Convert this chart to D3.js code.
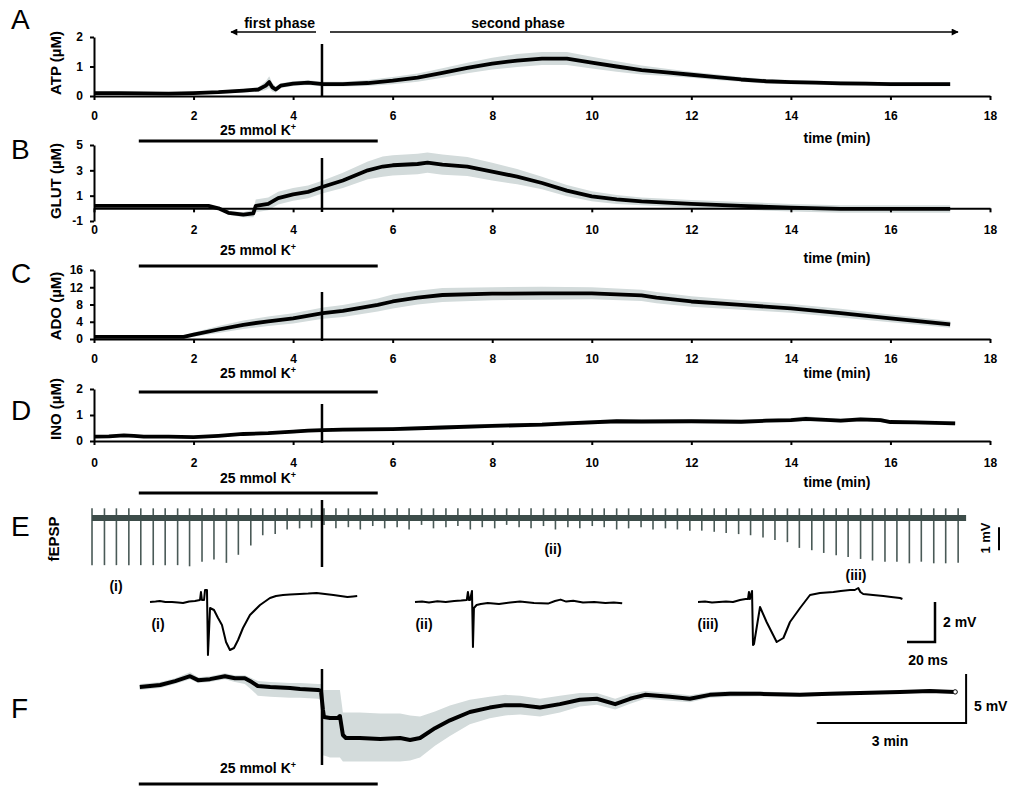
<!DOCTYPE html>
<html>
<head>
<meta charset="utf-8">
<script src="https://cdn.jsdelivr.net/npm/d3@7"></script>
<style>
  body { margin: 0; background: #fff; }
  svg { display: block; font-family: "Liberation Sans", Arial, sans-serif; }
  .axis path, .axis line { stroke: #000; stroke-width: 2; }
  .axis text { font-size: 12px; font-weight: bold; fill: #000; font-family: "Liberation Sans", Arial, sans-serif; }
</style>
</head>
<body>
<script>
// ---- time axis ----
const timeTicks = [0, 2, 4, 6, 8, 10, 12, 14, 16, 18];
const kOnset = 0.9, kOffset = 5.7;   // 25 mmol K+ application (min)
const phaseSplit = 4.58;             // boundary between first and second phase (min)

// ---- A: ATP (µM) ----
const atpT    = [0,0.5,1,1.5,2,2.5,3,3.3,3.45,3.52, 3.58,3.65,3.75,4,4.3,4.6,5,5.5,6,6.5, 7,7.5,8,8.5,9,9.5,10,10.5,11,11.5, 12,12.5,13,13.5,14,14.5,15,15.5,16,16.5, 17.2];
const atpMean = [0.1,0.1,0.09,0.08,0.1,0.13,0.18,0.22,0.35,0.47, 0.3,0.22,0.35,0.42,0.45,0.4,0.4,0.44,0.52,0.62, 0.78,0.95,1.1,1.2,1.27,1.27,1.13,1.0,0.88,0.8, 0.72,0.64,0.56,0.5,0.47,0.45,0.43,0.42,0.4,0.4, 0.4];
const atpSem  = [0.05,0.05,0.05,0.05,0.05,0.05,0.06,0.08,0.15,0.2, 0.15,0.1,0.08,0.08,0.08,0.08,0.08,0.1,0.12,0.14, 0.16,0.18,0.2,0.22,0.22,0.22,0.2,0.18,0.15,0.12, 0.1,0.1,0.08,0.08,0.07,0.07,0.07,0.07,0.07,0.07, 0.07];

// ---- B: GLUT (µM) ----
const glutT    = [0,0.5,1,1.5,2,2.3,2.5,2.7,3.0,3.2, 3.25,3.5,3.7,4,4.3,4.6,5,5.5,5.8,6, 6.5,6.7,7,7.5,8,8.5,9,9.5,10,10.5, 11,12,13,14,15,16,17.2];
const glutMean = [0.2,0.2,0.2,0.2,0.2,0.2,0.0,-0.35,-0.5,-0.4, 0.2,0.35,0.8,1.1,1.3,1.7,2.2,3.0,3.3,3.4, 3.5,3.6,3.45,3.3,2.9,2.5,2.0,1.4,0.95,0.7, 0.55,0.35,0.2,0.05,-0.05,-0.05,-0.05];
const glutSem  = [0.1,0.1,0.1,0.1,0.1,0.1,0.1,0.15,0.2,0.3, 0.5,0.5,0.5,0.5,0.5,0.5,0.6,0.7,0.8,0.8, 0.8,0.8,0.8,0.75,0.7,0.6,0.5,0.45,0.4,0.35, 0.3,0.3,0.3,0.3,0.3,0.3,0.3];

// ---- C: ADO (µM) ----
const adoT    = [0,1,1.8,2,2.5,3,3.5,4,4.6,5, 5.7,6,6.5,7,8,9,10,11,11.3,12, 13,14,15,16,17.2];
const adoMean = [0.5,0.5,0.5,1.0,2.2,3.3,4.1,4.8,6.0,6.5, 7.9,8.7,9.6,10.2,10.5,10.6,10.6,10.1,9.6,8.7, 7.9,7.1,6.0,4.8,3.4];
const adoSem  = [0.2,0.2,0.3,0.5,0.8,1.0,1.1,1.2,1.3,1.4, 1.5,1.6,1.6,1.6,1.5,1.5,1.4,1.3,1.3,1.2, 1.1,1.0,1.0,0.9,0.8];

// ---- D: INO (µM) ----
const inoT    = [0,0.3,0.6,0.8,1,1.5,2,2.5,3,3.5, 4,4.3,4.6,5,6,7,8,9,9.5,10.5, 11,12,13,13.5,14,14.3,14.6,15,15.4,15.8, 16,16.5,17.3];
const inoMean = [0.17,0.18,0.22,0.2,0.17,0.17,0.15,0.2,0.27,0.3, 0.36,0.4,0.42,0.44,0.46,0.52,0.58,0.63,0.68,0.76, 0.75,0.76,0.74,0.78,0.8,0.85,0.82,0.78,0.83,0.8, 0.73,0.72,0.68];
const inoSem  = [0.04,0.04,0.04,0.04,0.04,0.04,0.04,0.04,0.05,0.05, 0.06,0.06,0.07,0.07,0.08,0.08,0.08,0.08,0.08,0.08, 0.08,0.08,0.08,0.08,0.08,0.1,0.08,0.08,0.08,0.08, 0.08,0.08,0.08];

// ---- E: fEPSP stimulus times (min) and response amplitudes (mV, downward) ----
const stimT = [-0.04,0.21,0.45,0.70,0.94,1.19,1.43,1.68,1.92,2.17, 2.41,2.66,2.90,3.15,3.39,3.64,3.88,4.13,4.37,4.62,
               4.86,5.11,5.35,5.60,5.84,6.09,6.33,6.58,6.82,7.07, 7.31,7.56,7.80,8.05,8.29,8.54,8.78,9.03,9.27,9.52,
               9.76,10.01,10.25,10.50,10.74,10.99,11.23,11.48,11.72,11.97, 12.21,12.46,12.70,12.95,13.19,13.44,13.68,13.93,14.17,14.42,
               14.66,14.91,15.15,15.40,15.64,15.89,16.13,16.38,16.62,16.87, 17.11,17.36];
const stimAmp = [2.05,2.05,2.05,2.05,2.05,2.05,2.05,2.05,2.1,1.9, 1.8,1.95,1.6,1.2,0.75,0.7,0.5,0.45,0.42,0.3,
                 0.45,0.4,0.5,0.35,0.45,0.4,0.5,0.3,0.45,0.4, 0.35,0.5,0.4,0.45,0.3,0.4,0.45,0.35,0.5,0.4,
                 0.45,0.35,0.4,0.5,0.45,0.4,0.5,0.45,0.5,0.55, 0.55,0.6,0.65,0.7,0.75,0.85,0.96,1.05,1.3,1.4,
                 1.52,1.62,1.7,1.78,1.85,1.9,1.9,1.97,1.9,1.97, 1.97,1.95];
const artifactUp = 0.42; // stimulus artefact above baseline (mV)
const recStart = -0.04, recEnd = 17.52;

// ---- E insets: single sweeps (ms, mV) ----
const sweepIT = [0,4,7,11,15.7,20,23.6,28,32.1,35.7, 36.4,37.1,38.6,39.3,40.7,41.4,42.9,45.7,48.6,51.4, 54.3,57.1,60,62.9,66.4,71.4,78.6,85.7,90,95, 100,107,113,119,125,131,136,141,145,148];
const sweepIV = [0,0.02,0.05,0,0,-0.03,-0.05,0.02,0.05,0.1, 0.5,0.1,0.1,0.6,0.6,-2.65,-0.3,-0.4,-0.8,-1.15, -2.0,-2.4,-2.3,-1.9,-1.3,-0.65,-0.15,0.2,0.3,0.35, 0.38,0.4,0.42,0.45,0.4,0.35,0.3,0.25,0.28,0.3];
const sweepIIT = [0,5,10,16,22,28,33,37,37.8,38.6, 39.3,40.7,41.4,42.1,44,47,52,60,68,75, 85,95,100,104,108,113,120,128,136,142, 148];
const sweepIIV = [0,0.03,-0.02,0.04,0,0.05,0.07,0.1,0.5,0.1, 0.1,0.55,-2.25,-0.3,-0.15,-0.1,-0.05,-0.1,-0.02,0.02, -0.05,-0.08,0.05,0.12,0.02,0.06,-0.02,0,-0.05,-0.02, -0.06];
const sweepIIIT = [0,5,10,15,20,25,30,34,35.7,36.4, 37.1,38.6,39.3,40,44.3,49,56.2,61,65.7,72.9, 80,87.1,96.7,102,108.6,112,114.5,116,118,125, 132.4,138,144.3,146];
const sweepIIIV = [0,0.02,-0.03,0,0.02,0,0.1,0.15,0.15,0.5, 0.15,0.55,-2.15,-2.1,-0.25,-1.0,-2.0,-1.8,-1.0,-0.3, 0.35,0.45,0.5,0.55,0.6,0.6,0.7,0.5,0.4,0.35, 0.3,0.25,0.2,0.15];

// ---- F: DC potential (mV) mean with SEM envelope ----
const fT     = [0.92,1.33,1.63,1.93,2.09,2.33,2.63,2.83,3.03,3.17, 3.29,3.54,3.94,4.14,4.5,4.56,4.6,4.62,4.74,4.9, 4.94,5.0,5.06,5.34,5.75,6.15,6.35,6.55,6.85,7.15, 7.55,7.95,8.26,8.56,8.96,9.36,9.76,10.1,10.47,10.77, 11.07,11.57,11.97,12.37,12.78,13.38,14.18,14.78,15.39,16.19, 16.79,17.3];
const fMean  = [0,0.2,0.6,1.1,0.7,0.8,1.1,0.9,0.9,0.5, 0.1,0,-0.1,-0.2,-0.3,-0.4,-2.35,-3.06,-3.16,-3.16, -2.96,-4.9,-5.2,-5.2,-5.3,-5.2,-5.4,-5.2,-4.2,-3.4, -2.55,-2.1,-1.85,-1.85,-2.1,-1.75,-1.3,-1.2,-1.75,-1.2, -0.8,-1.0,-1.2,-0.8,-0.7,-0.7,-0.8,-0.7,-0.6,-0.5, -0.4,-0.5];
const fUpper = [0.3,0.5,0.9,1.5,1.0,1.1,1.4,1.2,1.2,0.9, 0.6,0.5,0.4,0.4,0.3,0.3,-0.3,-0.3,-0.3,-0.3, -0.3,-2.6,-2.6,-2.6,-2.7,-2.7,-2.9,-3.0,-2.5,-1.9, -1.3,-1.0,-0.8,-0.9,-1.2,-0.9,-0.6,-0.6,-1.2,-0.7, -0.4,-0.6,-0.85,-0.5,-0.4,-0.45,-0.6,-0.5,-0.4,-0.35, -0.25,-0.35];
const fLower = [-0.3,-0.1,0.3,0.8,0.4,0.5,0.8,0.5,0.3,-0.3, -0.9,-1.0,-1.1,-1.1,-1.2,-1.3,-7.0,-7.0,-7.2,-7.2, -7.2,-7.6,-7.6,-7.6,-7.6,-7.6,-7.5,-7.2,-6.0,-5.0, -3.8,-3.2,-2.9,-2.8,-3.0,-2.6,-2.0,-1.8,-2.3,-1.7, -1.2,-1.4,-1.55,-1.1,-1.0,-0.95,-1.0,-0.9,-0.8,-0.65, -0.55,-0.65];

// ---------------------------------------------------------------
const W = 1013, H = 786;
const bandFill = "#d3dbdb";
const svg = d3.select("body").append("svg").attr("width", W).attr("height", H);

const defs = svg.append("defs");
defs.append("marker").attr("id", "arrow").attr("viewBox", "0 0 10 10")
  .attr("refX", 9).attr("refY", 5).attr("markerWidth", 9).attr("markerHeight", 7)
  .attr("markerUnits", "userSpaceOnUse").attr("orient", "auto-start-reverse")
  .append("path").attr("d", "M0,0L10,5L0,10Z").attr("fill", "#000");

const x = d3.scaleLinear().domain([0, 18]).range([94, 990]);
const plain = d => String(d);

function text(str, px, py, size, opts = {}) {
  const t = svg.append("text").attr("x", px).attr("y", py)
    .attr("font-size", size).attr("text-anchor", opts.anchor || "start")
    .attr("font-weight", opts.weight || "bold").attr("fill", "#000");
  if (opts.rotate) t.attr("transform", `rotate(-90,${px},${py})`);
  t.text(str);
  return t;
}
function hline(x1, x2, yy, w) {
  svg.append("line").attr("x1", x1).attr("x2", x2).attr("y1", yy).attr("y2", yy)
    .attr("stroke", "#000").attr("stroke-width", w);
}
function vline(xx, y1, y2, w) {
  svg.append("line").attr("x1", xx).attr("x2", xx).attr("y1", y1).attr("y2", y2)
    .attr("stroke", "#000").attr("stroke-width", w);
}
function kLabel(cx, baseline, barY) {
  const t = svg.append("text").attr("x", cx).attr("y", baseline).attr("text-anchor", "middle")
    .attr("font-size", 14).attr("font-weight", "bold").attr("fill", "#000");
  t.append("tspan").text("25 mmol K");
  t.append("tspan").attr("dy", -5).attr("font-size", 9).text("+");
  hline(x(kOnset), x(kOffset), barY, 3);
}

// ---- panels A–D ----
const panels = [
  { letter: "A", letterY: 29,  title: "ATP (µM)",  titleY: 63,  t: atpT,  m: atpMean,  s: atpSem,  domain: [0, 2],  range: [96, 37],   ticks: [0, 1, 2],         pad: 11, vl: [44, 97] },
  { letter: "B", letterY: 159, title: "GLUT (µM)", titleY: 181, t: glutT, m: glutMean, s: glutSem, domain: [-1, 5], range: [221, 145], ticks: [-1, 1, 3, 5],     pad: 13, vl: [158, 212] },
  { letter: "C", letterY: 283, title: "ADO (µM)",  titleY: 306, t: adoT,  m: adoMean,  s: adoSem,  domain: [0, 16], range: [339, 270], ticks: [0, 4, 8, 12, 16], pad: 11, vl: [292, 341] },
  { letter: "D", letterY: 420, title: "INO (µM)",  titleY: 409, t: inoT,  m: inoMean,  s: inoSem,  domain: [0, 2],  range: [441, 389], ticks: [0, 1, 2],         pad: 13, vl: [404, 443] }
];

panels.forEach(p => {
  const y = d3.scaleLinear().domain(p.domain).range(p.range);
  const idx = d3.range(p.t.length);
  const g = svg.append("g");
  g.append("path").datum(idx).attr("fill", bandFill)
    .attr("d", d3.area().x(i => x(p.t[i])).y0(i => y(p.m[i] - p.s[i])).y1(i => y(p.m[i] + p.s[i])));
  g.append("path").datum(idx).attr("fill", "none").attr("stroke", "#000")
    .attr("stroke-width", 3.8).attr("stroke-linejoin", "round")
    .attr("d", d3.line().x(i => x(p.t[i])).y(i => y(p.m[i])));

  g.append("g").attr("class", "axis").attr("transform", `translate(0,${y(0)})`)
    .call(d3.axisBottom(x).tickValues(timeTicks).tickFormat(plain).tickSize(4).tickSizeOuter(0).tickPadding(p.pad));
  g.append("g").attr("class", "axis").attr("transform", `translate(${x(0)},0)`)
    .call(d3.axisLeft(y).tickValues(p.ticks).tickFormat(plain).tickSize(4).tickSizeOuter(0).tickPadding(7));

  vline(x(phaseSplit), p.vl[0], p.vl[1], 2.5);
  text(p.letter, 11, p.letterY, 28, { weight: "normal" });
  text(p.title, 61, p.titleY, 15, { anchor: "middle", rotate: true });
});

// time labels and K+ bars
[143, 263, 378, 487].forEach(yy => text("time (min)", 837, yy, 14, { anchor: "middle" }));
kLabel(258, 135, 141);
kLabel(258, 255, 266);
kLabel(258, 378, 392);
kLabel(258, 483, 493);

// phase arrows
text("first phase", 315, 28, 14, { anchor: "end" });
text("second phase", 518, 28, 14, { anchor: "middle" });
svg.append("line").attr("x1", 316).attr("x2", 231).attr("y1", 32).attr("y2", 32)
  .attr("stroke", "#000").attr("stroke-width", 1.5).attr("marker-end", "url(#arrow)");
svg.append("line").attr("x1", 330).attr("x2", 958).attr("y1", 32).attr("y2", 32)
  .attr("stroke", "#000").attr("stroke-width", 1.5).attr("marker-end", "url(#arrow)");

// ---- E: fEPSP recording ----
const eY = d3.scaleLinear().domain([0, -1]).range([518, 541]);
const eg = svg.append("g");
eg.selectAll("line.stim").data(d3.range(stimT.length)).join("line")
  .attr("x1", i => x(stimT[i])).attr("x2", i => x(stimT[i]))
  .attr("y1", eY(artifactUp)).attr("y2", i => eY(-stimAmp[i]))
  .attr("stroke", "#4a5a57").attr("stroke-width", 1.6);
eg.append("line").attr("x1", x(recStart)).attr("x2", x(recEnd)).attr("y1", eY(0)).attr("y2", eY(0))
  .attr("stroke", "#3c4c49").attr("stroke-width", 6);
vline(x(phaseSplit), 500, 567, 2.5);
text("E", 11, 536, 28, { weight: "normal" });
text("fEPSP", 59, 539, 15, { anchor: "middle", rotate: true });
// 1 mV bar
vline(999, eY(-0.4), eY(-1.4), 2);
text("1 mV", 990, 538, 13, { anchor: "middle", rotate: true });
text("(i)", 116, 591, 14, { anchor: "middle" });
text("(ii)", 553, 554, 14, { anchor: "middle" });
text("(iii)", 856, 580, 14, { anchor: "middle" });

// insets
const sx = d3.scaleLinear().domain([0, 20]).range([0, 28]);   // ms -> px
const sy = d3.scaleLinear().domain([0, -2]).range([602, 642]); // mV -> px
[[sweepIT, sweepIV, 150, "(i)", 158],
 [sweepIIT, sweepIIV, 415, "(ii)", 424],
 [sweepIIIT, sweepIIIV, 698, "(iii)", 708]].forEach(([tt, vv, x0, lab, lx]) => {
  svg.append("path").datum(d3.range(tt.length)).attr("fill", "none").attr("stroke", "#000")
    .attr("stroke-width", 2).attr("stroke-linejoin", "round")
    .attr("d", d3.line().x(i => x0 + sx(tt[i])).y(i => sy(vv[i])));
  text(lab, lx, 629, 14, { anchor: "middle" });
});
// 20 ms / 2 mV bar
svg.append("path").attr("fill", "none").attr("stroke", "#000").attr("stroke-width", 2.5)
  .attr("d", `M${935 - sx(20)},${sy(-2)}H935V${sy(0)}`);
text("2 mV", 943, 627, 14);
text("20 ms", 928, 665, 14, { anchor: "middle" });

// ---- F: DC potential ----
const fY = d3.scaleLinear().domain([0, -5]).range([687, 736]);
const fIdx = d3.range(fT.length);
svg.append("path").datum(fIdx).attr("fill", bandFill)
  .attr("d", d3.area().x(i => x(fT[i])).y0(i => fY(fLower[i])).y1(i => fY(fUpper[i])));
svg.append("path").datum(fIdx).attr("fill", "none").attr("stroke", "#000")
  .attr("stroke-width", 4).attr("stroke-linejoin", "round")
  .attr("d", d3.line().x(i => x(fT[i])).y(i => fY(fMean[i])));
svg.append("circle").attr("cx", x(fT[fT.length - 1])).attr("cy", fY(fMean[fMean.length - 1]))
  .attr("r", 2.2).attr("fill", "#fff").attr("stroke", "#000").attr("stroke-width", 1);
vline(x(phaseSplit), 669, 765, 2.5);
text("F", 11, 718, 28, { weight: "normal" });
// 3 min / 5 mV bar
svg.append("path").attr("fill", "none").attr("stroke", "#000").attr("stroke-width", 2)
  .attr("d", `M${x(recEnd) - (x(3) - x(0))},${fY(-3.67)}H${x(recEnd)}V${fY(1.33)}`);
text("5 mV", 974, 711, 14);
text("3 min", 890, 746, 14, { anchor: "middle" });
kLabel(258, 773, 784);
</script>
</body>
</html>
